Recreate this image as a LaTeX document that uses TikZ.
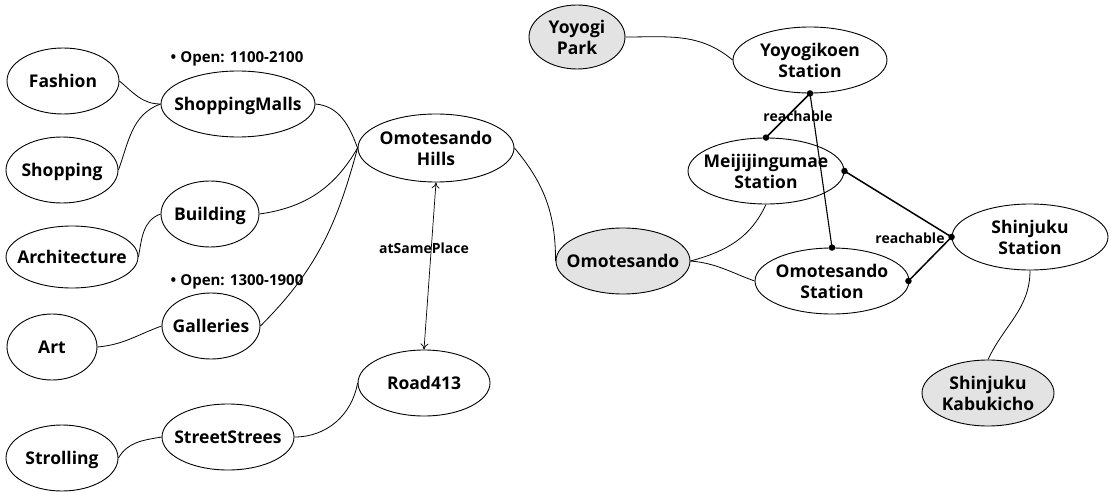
\documentclass[tikz,border=0pt]{standalone}
\usepackage{fontspec}
\setmainfont{Open Sans}
\usetikzlibrary{shapes.geometric,arrows.meta,calc}
% centred text that does not widen the ellipse around it
\newcommand\ctext[1]{\makebox[0pt]{\raisebox{-2.5pt}[\height][\depth]{\begin{tabular}{@{}c@{}}#1\end{tabular}}}}
\begin{document}
\begin{tikzpicture}[x=1pt,y=1pt,
  concept/.style={ellipse,draw=black,line width=0.9pt,inner sep=0pt,
    font=\fontsize{17.5}{21}\selectfont\bfseries},
  place/.style={concept,fill=gray!22},
  link/.style={draw=black,line width=0.8pt},
  reach/.style={draw=black,line width=1.5pt},
  dot/.style={circle,fill=black,inner sep=0pt,minimum size=6.5pt},
  small/.style={font=\fontsize{14}{16}\selectfont\bfseries,inner sep=0pt},
  note/.style={font=\fontsize{15}{16}\selectfont\bfseries,inner sep=0pt}]
\useasboundingbox (0,0) rectangle (1111,-492);

% left cluster: activities and facilities
\node[concept,minimum width=112,minimum height=66] (fashion) at (63,-81) {\ctext{Fashion}};
\node[concept,minimum width=112,minimum height=66] (shopping) at (62,-170) {\ctext{Shopping}};
\node[concept,minimum width=154,minimum height=66] (malls) at (238,-104) {\ctext{ShoppingMalls}};
\node[note] (openA) at (237,-59) {•\hspace{4pt}Open: 1100-2100};
\node[concept,minimum width=98,minimum height=66] (building) at (210,-214) {\ctext{Building}};
\node[concept,minimum width=132,minimum height=62] (arch) at (72,-257) {\ctext{Architecture}};
\node[note] (openB) at (237,-282) {•\hspace{4pt}Open: 1300-1900};
\node[concept,minimum width=98,minimum height=66] (galleries) at (211,-326) {\ctext{Galleries}};
\node[concept,minimum width=90,minimum height=66] (art) at (52,-347) {\ctext{Art}};
\node[concept,minimum width=132,minimum height=66] (trees) at (228,-437) {\ctext{StreetStrees}};
\node[concept,minimum width=112,minimum height=66] (stroll) at (62,-458) {\ctext{Strolling}};
\node[concept,minimum width=132,minimum height=66] (road) at (424,-383) {\ctext{Road413}};
\node[concept,minimum width=156,minimum height=68] (hills) at (436,-148) {\ctext{Omotesando\\Hills}};

% right cluster: areas and stations
\node[place,minimum width=134,minimum height=66] (omote) at (623,-261) {\ctext{Omotesando}};
\node[place,minimum width=96,minimum height=64] (park) at (577,-37) {\ctext{Yoyogi\\Park}};
\node[concept,minimum width=154,minimum height=66] (yks) at (810,-60) {\ctext{Yoyogikoen\\Station}};
\node[concept,minimum width=156,minimum height=66] (mjs) at (766,-171) {\ctext{Meijijingumae\\Station}};
\node[concept,minimum width=156,minimum height=66] (sjs) at (1030,-237) {\ctext{Shinjuku\\Station}};
\node[concept,minimum width=154,minimum height=66] (oms) at (832,-281) {\ctext{Omotesando\\Station}};
\node[place,minimum width=132,minimum height=66] (kabuki) at (988,-393) {\ctext{Shinjuku\\Kabukicho}};

% plain relations
\draw[link] (fashion.east) to[out=-40,in=180] (malls.west);
\draw[link] (shopping.east) to[out=70,in=200] (malls.west);
\coordinate (hub) at (hills.west);
\draw[link] (malls.east) to[out=-5,in=110] (hub);
\draw[link] (building.east) to[out=8,in=240] (hub);
\draw[link] (galleries.east) to[out=45,in=255] (hub);
\draw[link] (arch.east) to[out=80,in=200] (building.west);
\draw[link] (art.east) to[out=5,in=200] (galleries.west);
\draw[link] (stroll.east) to[out=60,in=190] (trees.west);
\draw[link] (trees.east) to[out=0,in=260] (road.west);
\draw[link] (hills.east) to[out=-50,in=90] (omote.west);
\draw[link] (omote.east) to[out=15,in=245] (mjs.south);
\draw[link] (omote.east) to[out=-5,in=160] (oms.west);
\draw[link] (park.east) to[out=0,in=140] (yks.west);
\draw[link] (sjs.south) to[out=-90,in=65] (kabuki.north);

% atSamePlace
\draw[link,line width=0.7pt,{To[length=6pt,width=8pt]}-{To[length=6pt,width=8pt]}] (hills.south) -- (road.north);
\node[small] (same) at (424,-248) {atSamePlace};

% reachable relations between stations
\node[dot] (d1) at (yks.south) {};
\node[dot] (d2) at (mjs.north) {};
\node[dot] (d3) at (oms.north) {};
\node[dot] (d4) at (mjs.east) {};
\node[dot] (d5) at (sjs.west) {};
\node[dot] (d6) at ($(oms.east)+(-1,0)$) {};
\draw[reach] (d1.center) -- (d2.center);
\draw[link,line width=1.1pt] (d1.center) -- (d3.center);
\draw[reach] (d4.center) -- (d5.center);
\draw[reach] (d5.center) -- (d6.center);
\node[small] (reachA) at (798,-116) {reachable};
\node[small] (reachB) at (910,-238) {reachable};
\end{tikzpicture}
\end{document}
